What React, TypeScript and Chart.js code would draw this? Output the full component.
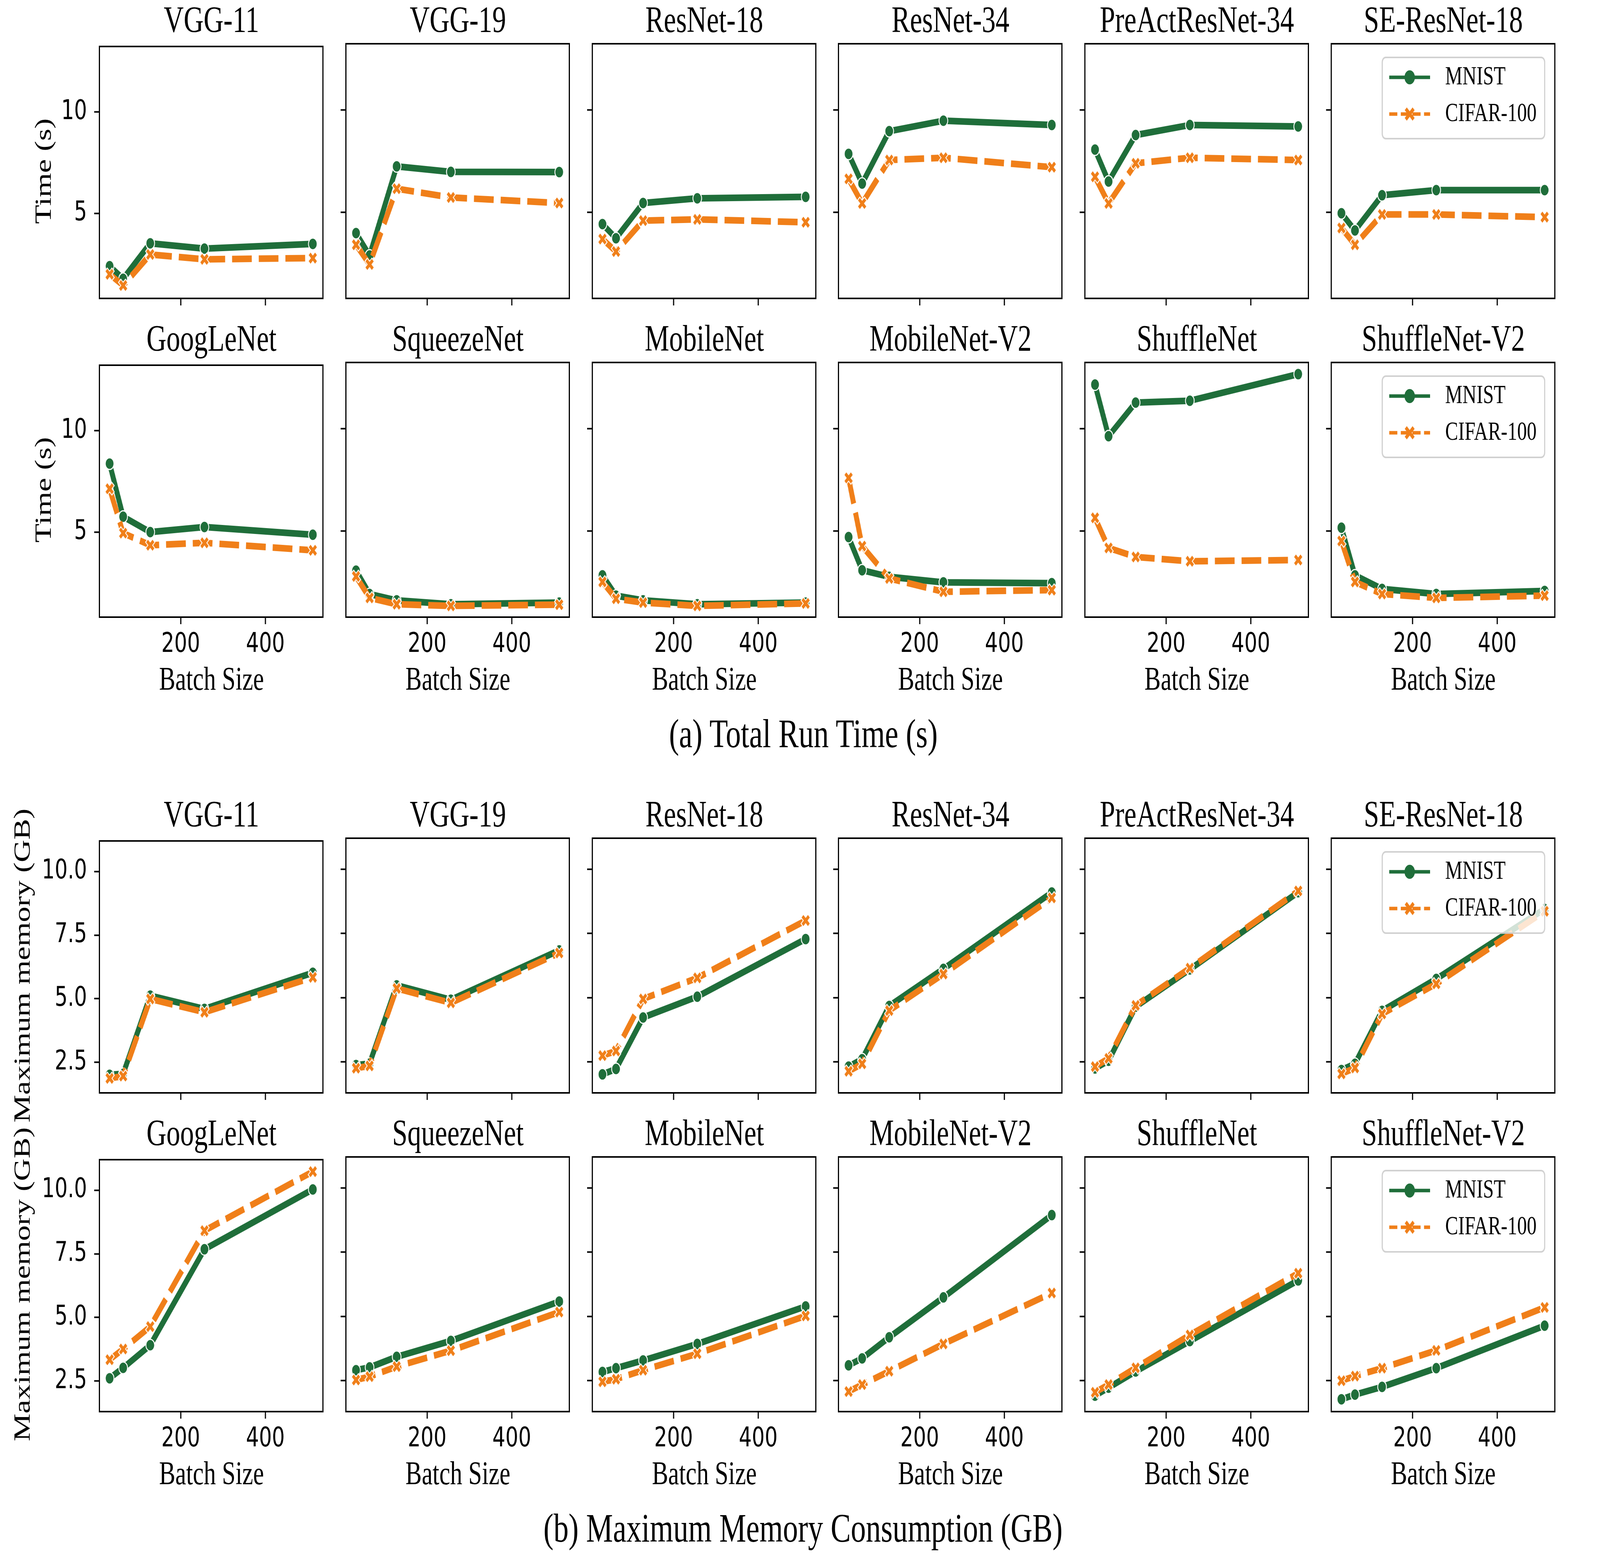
import React, { useEffect, useRef, useState } from 'react';
import { Chart, registerables } from 'chart.js';

Chart.register(...registerables);

// ---------------- data ----------------
const batchSizes = [32, 64, 128, 256, 512];
const xTickValues = [200, 400];
const timeTickValues = [5, 10];
const memTickValues = [2.5, 5.0, 7.5, 10.0];
const seriesLabels = ['MNIST', 'CIFAR-100'];
const modelsRowA = ['VGG-11', 'VGG-19', 'ResNet-18', 'ResNet-34', 'PreActResNet-34', 'SE-ResNet-18'];
const modelsRowB = ['GoogLeNet', 'SqueezeNet', 'MobileNet', 'MobileNet-V2', 'ShuffleNet', 'ShuffleNet-V2'];
const captionTime = '(a) Total Run Time (s)';
const captionMem = '(b) Maximum Memory Consumption (GB)';
const yLabelTime = 'Time (s)';
const yLabelMem = 'Maximum memory (GB)';
const xLabel = 'Batch Size';

// Total run time (s)
const timeVgg11Mnist = [2.39, 1.77, 3.52, 3.26, 3.49];
const timeVgg11Cifar = [1.99, 1.44, 2.97, 2.73, 2.79];
const timeVgg19Mnist = [3.99, 2.90, 7.25, 6.98, 6.97];
const timeVgg19Cifar = [3.42, 2.46, 6.16, 5.73, 5.46];
const timeResnet18Mnist = [4.43, 3.74, 5.46, 5.69, 5.76];
const timeResnet18Cifar = [3.70, 3.09, 4.60, 4.66, 4.52];
const timeResnet34Mnist = [7.86, 6.41, 8.97, 9.48, 9.27];
const timeResnet34Cifar = [6.64, 5.44, 7.56, 7.67, 7.21];
const timePreactMnist = [8.07, 6.51, 8.78, 9.27, 9.20];
const timePreactCifar = [6.74, 5.44, 7.40, 7.67, 7.56];
const timeSeMnist = [4.96, 4.12, 5.84, 6.09, 6.09];
const timeSeCifar = [4.24, 3.42, 4.90, 4.90, 4.77];
const timeGoogleMnist = [8.38, 5.76, 5.00, 5.25, 4.87];
const timeGoogleCifar = [7.14, 4.95, 4.35, 4.47, 4.10];
const timeSqueezeMnist = [3.07, 1.93, 1.62, 1.43, 1.51];
const timeSqueezeCifar = [2.79, 1.74, 1.43, 1.35, 1.41];
const timeMobileMnist = [2.84, 1.85, 1.62, 1.43, 1.51];
const timeMobileCifar = [2.52, 1.70, 1.51, 1.35, 1.47];
const timeMobileV2Mnist = [4.71, 3.09, 2.77, 2.50, 2.46];
const timeMobileV2Cifar = [7.60, 4.27, 2.69, 2.04, 2.12];
const timeShuffleMnist = [12.16, 9.64, 11.28, 11.37, 12.67];
const timeShuffleCifar = [5.65, 4.18, 3.74, 3.53, 3.59];
const timeShuffleV2Mnist = [5.17, 2.84, 2.18, 1.93, 2.08];
const timeShuffleV2Cifar = [4.52, 2.52, 1.93, 1.74, 1.85];

// Maximum memory (GB)
const memVgg11Mnist = [2.01, 2.05, 5.12, 4.60, 6.02];
const memVgg11Cifar = [1.87, 1.96, 4.99, 4.47, 5.84];
const memVgg19Mnist = [2.38, 2.44, 5.48, 4.92, 6.84];
const memVgg19Cifar = [2.26, 2.35, 5.36, 4.80, 6.74];
const memResnet18Mnist = [2.02, 2.23, 4.23, 5.04, 7.28];
const memResnet18Cifar = [2.75, 2.93, 4.95, 5.77, 8.00];
const memResnet34Mnist = [2.32, 2.61, 4.68, 6.12, 9.09];
const memResnet34Cifar = [2.14, 2.43, 4.50, 5.92, 8.88];
const memPreactMnist = [2.25, 2.55, 4.65, 6.10, 9.10];
const memPreactCifar = [2.32, 2.64, 4.70, 6.15, 9.15];
const memSeMnist = [2.19, 2.43, 4.49, 5.73, 8.45];
const memSeCifar = [2.04, 2.27, 4.37, 5.54, 8.36];
const memGoogleMnist = [2.61, 3.02, 3.91, 7.68, 10.03];
const memGoogleCifar = [3.34, 3.76, 4.64, 8.41, 10.73];
const memSqueezeMnist = [2.91, 3.02, 3.43, 4.05, 5.58];
const memSqueezeCifar = [2.53, 2.66, 3.05, 3.67, 5.17];
const memMobileMnist = [2.84, 2.99, 3.29, 3.93, 5.39];
const memMobileCifar = [2.46, 2.56, 2.91, 3.55, 5.02];
const memMobileV2Mnist = [3.10, 3.37, 4.19, 5.74, 8.94];
const memMobileV2Cifar = [2.08, 2.35, 2.87, 3.93, 5.91];
const memShuffleMnist = [1.92, 2.23, 2.86, 4.04, 6.40];
const memShuffleCifar = [2.05, 2.35, 3.00, 4.28, 6.68];
const memShuffleV2Mnist = [1.78, 1.96, 2.26, 2.99, 4.64];
const memShuffleV2Cifar = [2.50, 2.68, 2.99, 3.68, 5.35];

// tables built from the arrays above (column order matches model lists)
const timeRowA = [
  [timeVgg11Mnist, timeVgg11Cifar], [timeVgg19Mnist, timeVgg19Cifar], [timeResnet18Mnist, timeResnet18Cifar],
  [timeResnet34Mnist, timeResnet34Cifar], [timePreactMnist, timePreactCifar], [timeSeMnist, timeSeCifar],
];
const timeRowB = [
  [timeGoogleMnist, timeGoogleCifar], [timeSqueezeMnist, timeSqueezeCifar], [timeMobileMnist, timeMobileCifar],
  [timeMobileV2Mnist, timeMobileV2Cifar], [timeShuffleMnist, timeShuffleCifar], [timeShuffleV2Mnist, timeShuffleV2Cifar],
];
const memRowA = [
  [memVgg11Mnist, memVgg11Cifar], [memVgg19Mnist, memVgg19Cifar], [memResnet18Mnist, memResnet18Cifar],
  [memResnet34Mnist, memResnet34Cifar], [memPreactMnist, memPreactCifar], [memSeMnist, memSeCifar],
];
const memRowB = [
  [memGoogleMnist, memGoogleCifar], [memSqueezeMnist, memSqueezeCifar], [memMobileMnist, memMobileCifar],
  [memMobileV2Mnist, memMobileV2Cifar], [memShuffleMnist, memShuffleCifar], [memShuffleV2Mnist, memShuffleV2Cifar],
];

// ---------------- layout / style ----------------
const FIG_W = 5519;
const FIG_H = 3976;
const COL_LEFT0 = 343;
const COL_PITCH = 849.8;
const PANEL_W = 773;
const PANEL_H = 652;
const ROW_TOPS = [112, 928, 2146, 2962];
const PAD_L = 260;
const PAD_T = 60;
const PAD_R = 30;
const PAD_B = 130;
const X_MIN = 8;
const X_MAX = 536;
const TIME_MIN = 0.8;
const TIME_MAX = 13.24;
const MEM_MIN = 1.3;
const MEM_MAX = 11.2;

const GREEN = '#1f6e3a';
const ORANGE = '#f07f19';
const SERIF = '"Liberation Serif", "Times New Roman", serif';
const SANS = '"DejaVu Sans", sans-serif';

function makeXCanvas(half: number, lw: number, outline: number) {
  const size = Math.ceil(2 * half + lw + 2 * outline + 6);
  const c = document.createElement('canvas');
  c.width = size;
  c.height = size;
  const ctx = c.getContext('2d')!;
  const m = size / 2;
  const arms = (w: number, ext: number, color: string) => {
    const e = half + ext;
    ctx.strokeStyle = color;
    ctx.lineWidth = w;
    ctx.lineCap = 'butt';
    ctx.beginPath();
    ctx.moveTo(m - e, m - e);
    ctx.lineTo(m + e, m + e);
    ctx.moveTo(m + e, m - e);
    ctx.lineTo(m - e, m + e);
    ctx.stroke();
  };
  if (outline > 0) arms(lw + 2 * outline, outline * 0.8, '#ffffff');
  arms(lw, 0, ORANGE);
  return c;
}

let pointX: HTMLCanvasElement | null = null;
let legendX: HTMLCanvasElement | null = null;

function drawLegend(ctx: CanvasRenderingContext2D, a: any) {
  const bx = a.right - 595;
  const by = a.top + 35;
  const bw = 560;
  const bh = 208;
  ctx.save();
  ctx.beginPath();
  (ctx as any).roundRect(bx, by, bw, bh, 12);
  ctx.fillStyle = 'rgba(255,255,255,0.8)';
  ctx.fill();
  ctx.lineWidth = 4;
  ctx.strokeStyle = 'rgba(204,204,204,0.9)';
  ctx.stroke();
  const y1 = by + 51;
  const y2 = by + 145;
  const hx0 = bx + 24;
  const hx1 = bx + 165;
  const hm = (hx0 + hx1) / 2;
  ctx.setLineDash([]);
  ctx.strokeStyle = GREEN;
  ctx.lineWidth = 9;
  ctx.beginPath();
  ctx.moveTo(hx0, y1);
  ctx.lineTo(hx1, y1);
  ctx.stroke();
  ctx.fillStyle = GREEN;
  ctx.beginPath();
  ctx.arc(hm, y1, 18, 0, Math.PI * 2);
  ctx.fill();
  ctx.strokeStyle = ORANGE;
  ctx.setLineDash([28, 12]);
  ctx.beginPath();
  ctx.moveTo(hx0, y2);
  ctx.lineTo(hx1, y2);
  ctx.stroke();
  ctx.setLineDash([]);
  if (legendX) ctx.drawImage(legendX, hm - legendX.width / 2, y2 - legendX.height / 2);
  ctx.fillStyle = '#000';
  ctx.font = `67px ${SERIF}`;
  ctx.textAlign = 'left';
  ctx.textBaseline = 'middle';
  ctx.fillText(seriesLabels[0], bx + 217, y1);
  ctx.fillText(seriesLabels[1], bx + 217, y2);
  ctx.restore();
}

const framePlugin = {
  id: 'frame',
  afterDatasetsDraw(chart: any, _args: any, opts: any) {
    const ctx = chart.ctx;
    const a = chart.chartArea;
    if (opts && opts.legend) drawLegend(ctx, a);
    ctx.save();
    ctx.strokeStyle = '#000';
    ctx.lineWidth = 4;
    ctx.setLineDash([]);
    ctx.strokeRect(a.left, a.top, a.right - a.left, a.bottom - a.top);
    ctx.restore();
  },
};

type PanelProps = {
  left: number;
  top: number;
  series: number[][];
  isMem: boolean;
  showY: boolean;
  showX: boolean;
  legend: boolean;
};

function Panel(p: PanelProps) {
  const ref = useRef<HTMLCanvasElement>(null);
  const W = PANEL_W + PAD_L + PAD_R;
  const H = PANEL_H + PAD_T + PAD_B;
  useEffect(() => {
    if (!pointX) pointX = makeXCanvas(11, 9, 2.5);
    if (!legendX) legendX = makeXCanvas(13.5, 10, 0);
    const yTicks = p.isMem ? memTickValues : timeTickValues;
    const chart = new Chart(ref.current!, {
      type: 'line',
      data: {
        datasets: [
          {
            label: seriesLabels[0],
            data: batchSizes.map((b, i) => ({ x: b, y: p.series[0][i] })),
            borderColor: GREEN,
            backgroundColor: GREEN,
            borderWidth: 17,
            borderJoinStyle: 'round',
            borderCapStyle: 'butt',
            pointStyle: 'circle',
            pointRadius: 15,
            pointBackgroundColor: GREEN,
            pointBorderColor: '#ffffff',
            pointBorderWidth: 3,
            tension: 0,
            order: 1,
          },
          {
            label: seriesLabels[1],
            data: batchSizes.map((b, i) => ({ x: b, y: p.series[1][i] })),
            borderColor: ORANGE,
            backgroundColor: ORANGE,
            borderWidth: 17,
            borderDash: [68, 24],
            borderJoinStyle: 'round',
            borderCapStyle: 'butt',
            pointStyle: pointX as any,
            pointRadius: 15,
            tension: 0,
            order: 0,
          },
        ],
      },
      options: {
        animation: false,
        responsive: false,
        devicePixelRatio: 1,
        events: [],
        layout: { padding: { left: 0, top: PAD_T, right: PAD_R, bottom: 0 } },
        plugins: {
          legend: { display: false },
          tooltip: { enabled: false },
          title: { display: false },
          frame: { legend: p.legend },
        } as any,
        scales: {
          x: {
            type: 'linear',
            position: 'bottom',
            min: X_MIN,
            max: X_MAX,
            afterBuildTicks: (s: any) => {
              s.ticks = xTickValues.map((v) => ({ value: v }));
            },
            afterFit: (s: any) => {
              s.height = PAD_B;
            },
            grid: { drawOnChartArea: false, drawTicks: true, tickLength: 18, tickWidth: 4, tickColor: '#000', color: '#000' },
            border: { display: false },
            ticks: {
              display: p.showX,
              color: '#000',
              font: { family: SANS, size: 70 },
              padding: 11,
              maxRotation: 0,
              autoSkip: false,
              callback: (v: any) => String(v),
            },
          },
          y: {
            type: 'linear',
            position: 'left',
            min: p.isMem ? MEM_MIN : TIME_MIN,
            max: p.isMem ? MEM_MAX : TIME_MAX,
            afterBuildTicks: (s: any) => {
              s.ticks = yTicks.map((v) => ({ value: v }));
            },
            afterFit: (s: any) => {
              s.width = PAD_L;
            },
            grid: { drawOnChartArea: false, drawTicks: true, tickLength: 18, tickWidth: 4, tickColor: '#000', color: '#000' },
            border: { display: false },
            ticks: {
              display: p.showY,
              color: '#000',
              font: { family: SANS, size: 70 },
              padding: 25,
              autoSkip: false,
              callback: (v: any) => (p.isMem ? Number(v).toFixed(1) : String(v)),
            },
          },
        },
      } as any,
      plugins: [framePlugin as any],
    });
    return () => chart.destroy();
  }, []);
  return (
    <canvas
      ref={ref}
      width={W}
      height={H}
      style={{ position: 'absolute', left: p.left - PAD_L, top: p.top - PAD_T, width: W, height: H }}
    />
  );
}

export default function App() {
  // The browser may clamp the window below the figure size; fill whatever viewport we get.
  const [fit] = useState(() => {
    if (typeof window === 'undefined') return { sx: 1, sy: 1 };
    const w = window.innerWidth || FIG_W;
    const h = window.innerHeight || FIG_H;
    return { sx: w / FIG_W, sy: h / FIG_H };
  });
  const panels: any[] = [];
  const texts: any[] = [];
  const rows = [
    { models: modelsRowA, data: timeRowA, isMem: false, showX: false },
    { models: modelsRowB, data: timeRowB, isMem: false, showX: true },
    { models: modelsRowA, data: memRowA, isMem: true, showX: false },
    { models: modelsRowB, data: memRowB, isMem: true, showX: true },
  ];
  rows.forEach((r, ri) => {
    const top = ROW_TOPS[ri];
    r.models.forEach((m, ci) => {
      const left = Math.round(COL_LEFT0 + ci * COL_PITCH);
      panels.push(
        <Panel
          key={`p${ri}-${ci}`}
          left={left}
          top={top}
          series={r.data[ci]}
          isMem={r.isMem}
          showY={ci === 0}
          showX={r.showX}
          legend={ci === 5}
        />
      );
      const cx = left + PANEL_W / 2;
      texts.push(
        <text key={`t${ri}-${ci}`} x={cx} y={top - 30} textAnchor="middle" fontFamily={SERIF} fontSize={95} fill="#000">
          {m}
        </text>
      );
      if (r.showX) {
        texts.push(
          <text key={`xl${ri}-${ci}`} x={cx} y={top + PANEL_H + 186} textAnchor="middle" fontFamily={SERIF} fontSize={84} fill="#000">
            {xLabel}
          </text>
        );
      }
    });
    const cy = top + PANEL_H / 2;
    const lx = r.isMem ? 103 : 175;
    texts.push(
      <text
        key={`yl${ri}`}
        transform={`translate(${lx},${cy}) rotate(-90)`}
        textAnchor="middle"
        fontFamily={SERIF}
        fontSize={80}
        fill="#000"
      >
        {r.isMem ? yLabelMem : yLabelTime}
      </text>
    );
  });
  texts.push(
    <text key="capA" x={2771} y={1913} textAnchor="middle" fontFamily={SERIF} fontSize={104} fill="#000">
      {captionTime}
    </text>
  );
  texts.push(
    <text key="capB" x={2770} y={3947} textAnchor="middle" fontFamily={SERIF} fontSize={104} fill="#000">
      {captionMem}
    </text>
  );
  return (
    <div
      style={{
        position: 'absolute',
        left: 0,
        top: 0,
        width: FIG_W * fit.sx,
        height: FIG_H * fit.sy,
        overflow: 'hidden',
        background: '#fff',
      }}
    >
      <div
        style={{
          position: 'absolute',
          left: 0,
          top: 0,
          width: FIG_W,
          height: FIG_H,
          background: '#fff',
          transform: `scale(${fit.sx}, ${fit.sy})`,
          transformOrigin: '0 0',
        }}
      >
        {panels}
        <svg
          width={FIG_W}
          height={FIG_H}
          style={{ position: 'absolute', left: 0, top: 0, pointerEvents: 'none' }}
        >
          {texts}
        </svg>
      </div>
    </div>
  );
}
